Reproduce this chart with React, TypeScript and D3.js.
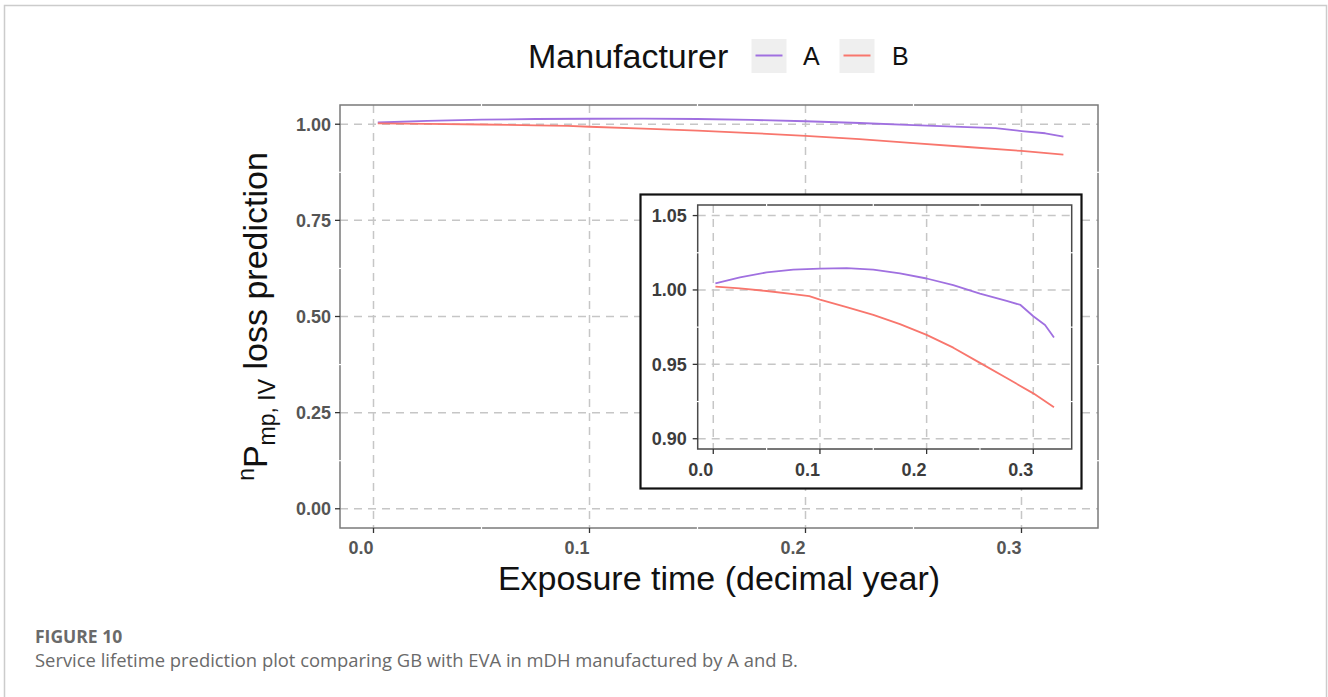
import React, { useEffect } from "react";
import * as d3 from "d3";

// ---- data ----
const timeA = [0.002, 0.025, 0.05, 0.075, 0.1, 0.125, 0.15, 0.175, 0.2, 0.225, 0.25, 0.275, 0.288, 0.3, 0.311, 0.3194];
const valueA = [1.0045, 1.0085, 1.0118, 1.0136, 1.0143, 1.0147, 1.0136, 1.0112, 1.0077, 1.0032, 0.9976, 0.9926, 0.9899, 0.9823, 0.9765, 0.968];
const timeB = [0.002, 0.025, 0.05, 0.075, 0.09, 0.1, 0.125, 0.15, 0.175, 0.2, 0.225, 0.25, 0.275, 0.3, 0.3194];
const valueB = [1.0022, 1.001, 0.9993, 0.9972, 0.9958, 0.9935, 0.9885, 0.9832, 0.977, 0.9698, 0.9612, 0.951, 0.9408, 0.9305, 0.9212];

const manufacturers = ["A", "B"];
const colors = ["#a070e0", "#f8766d"];

const mainXTicks = [0, 0.1, 0.2, 0.3];
const mainXMinor = [0.05, 0.15, 0.25];
const mainYTicks = [0, 0.25, 0.5, 0.75, 1.0];
const mainYMinor = [0.125, 0.375, 0.625, 0.875];
const insetXTicks = [0, 0.1, 0.2, 0.3];
const insetXMinor = [0.05, 0.15, 0.25];
const insetYTicks = [0.9, 0.95, 1.0, 1.05];
const insetYMinor = [0.925, 0.975, 1.025];

const CHART_FONT = "'Liberation Sans', Arial, Helvetica, sans-serif";
const CAPTION_FONT = "'Open Sans', Lato, sans-serif";

type Panel = {
  x: d3.ScaleLinear<number, number>;
  y: d3.ScaleLinear<number, number>;
  xTicks: number[];
  yTicks: number[];
  xMinor: number[];
  yMinor: number[];
  xFmt: (v: number) => string;
  yFmt: (v: number) => string;
  labelSize: number;
  labelColor: string;
  borderColor: string;
  xLabelBaseline: number;
  yLabelGap: number;
  lineWidth: number;
};

function PanelView({ p }: { p: Panel }) {
  const [x0, x1] = p.x.range();
  const [y0, y1] = p.y.range(); // y0 bottom, y1 top
  const line = d3
    .line<[number, number]>()
    .x((d) => p.x(d[0]))
    .y((d) => p.y(d[1]));
  const seriesA: [number, number][] = timeA.map((t, i) => [t, valueA[i]]);
  const seriesB: [number, number][] = timeB.map((t, i) => [t, valueB[i]]);
  return (
    <g>
      <rect x={x0} y={y1} width={x1 - x0} height={y0 - y1} fill="#fff" />
      {p.xTicks.map((t) => (
        <line key={"gx" + t} x1={p.x(t)} x2={p.x(t)} y1={y1} y2={y0} stroke="#c6c6c6" strokeWidth={1.5} strokeDasharray="8,6" />
      ))}
      {p.yTicks.map((t) => (
        <line key={"gy" + t} x1={x0} x2={x1} y1={p.y(t)} y2={p.y(t)} stroke="#c6c6c6" strokeWidth={1.5} strokeDasharray="8,6" />
      ))}
      <path d={line(seriesA) || ""} fill="none" stroke={colors[0]} strokeWidth={p.lineWidth} strokeLinejoin="round" />
      <path d={line(seriesB) || ""} fill="none" stroke={colors[1]} strokeWidth={p.lineWidth} strokeLinejoin="round" />
      <rect x={x0} y={y1} width={x1 - x0} height={y0 - y1} fill="none" stroke={p.borderColor} strokeWidth={1.5} />
      {p.xMinor.map((t) => (
        <g key={"mx" + t}>
          <line x1={p.x(t)} x2={p.x(t)} y1={y1 - 1.5} y2={y1 + 1.5} stroke="#fff" strokeWidth={1.2} />
          <line x1={p.x(t)} x2={p.x(t)} y1={y0 - 1.5} y2={y0 + 1.5} stroke="#fff" strokeWidth={1.2} />
        </g>
      ))}
      {p.yMinor.map((t) => (
        <g key={"my" + t}>
          <line x1={x0 - 1.5} x2={x0 + 1.5} y1={p.y(t)} y2={p.y(t)} stroke="#fff" strokeWidth={1.2} />
          <line x1={x1 - 1.5} x2={x1 + 1.5} y1={p.y(t)} y2={p.y(t)} stroke="#fff" strokeWidth={1.2} />
        </g>
      ))}
      {p.xTicks.map((t) => (
        <g key={"tx" + t}>
          <line x1={p.x(t)} x2={p.x(t)} y1={y0} y2={y0 + 5} stroke="#333" strokeWidth={1.3} />
          <text x={p.x(t)} y={p.xLabelBaseline} textAnchor="end" fontSize={p.labelSize} fontWeight="bold" fill={p.labelColor} fontFamily={CHART_FONT}>
            {p.xFmt(t)}
          </text>
        </g>
      ))}
      {p.yTicks.map((t) => (
        <g key={"ty" + t}>
          <line x1={x0 - 5} x2={x0} y1={p.y(t)} y2={p.y(t)} stroke="#333" strokeWidth={1.3} />
          <text x={x0 - p.yLabelGap} y={p.y(t)} dy="0.36em" textAnchor="end" fontSize={p.labelSize} fontWeight="bold" fill={p.labelColor} fontFamily={CHART_FONT}>
            {p.yFmt(t)}
          </text>
        </g>
      ))}
    </g>
  );
}

export default function App() {
  useEffect(() => {
    document.body.style.margin = "0";
  }, []);

  const mainX = d3.scaleLinear().domain([-0.01551, 0.33542]).range([340, 1098]);
  const mainY = d3.scaleLinear().domain([-0.05, 1.05]).range([528, 105]);
  const insetX = d3.scaleLinear().domain([-0.0146, 0.336]).range([697.7, 1071.7]);
  const insetY = d3.scaleLinear().domain([0.8931, 1.0571]).range([449, 205]);

  const mainPanel: Panel = {
    x: mainX,
    y: mainY,
    xTicks: mainXTicks,
    yTicks: mainYTicks,
    xMinor: mainXMinor,
    yMinor: mainYMinor,
    xFmt: d3.format(".1f"),
    yFmt: d3.format(".2f"),
    labelSize: 18,
    labelColor: "#555",
    borderColor: "#7a7a7a",
    xLabelBaseline: 554,
    yLabelGap: 9,
    lineWidth: 1.8,
  };
  const insetPanel: Panel = {
    x: insetX,
    y: insetY,
    xTicks: insetXTicks,
    yTicks: insetYTicks,
    xMinor: insetXMinor,
    yMinor: insetYMinor,
    xFmt: d3.format(".1f"),
    yFmt: d3.format(".2f"),
    labelSize: 18,
    labelColor: "#3c3c3c",
    borderColor: "#4a4a4a",
    xLabelBaseline: 476,
    yLabelGap: 11,
    lineWidth: 1.8,
  };

  return (
    <svg width={1328} height={697} style={{ position: "absolute", left: 0, top: 0, background: "#fff" }}>
      {/* card border */}
      <rect x={4.5} y={5.5} width={1322} height={720} fill="#fff" stroke="#cccccc" strokeWidth={1.5} />

      {/* legend */}
      <text x={528} y={68} fontSize={34} fontFamily={CHART_FONT} fill="#111">
        Manufacturer
      </text>
      {manufacturers.map((m, i) => {
        const kx = i === 0 ? 751.5 : 839.5;
        const lx = i === 0 ? 803 : 892;
        return (
          <g key={m}>
            <rect x={kx} y={39} width={35} height={34} fill="#efefef" />
            <line x1={kx + 4} x2={kx + 31} y1={55.5} y2={55.5} stroke={colors[i]} strokeWidth={2} />
            <text x={lx} y={65} fontSize={25} fontFamily={CHART_FONT} fill="#111">
              {m}
            </text>
          </g>
        );
      })}

      <PanelView p={mainPanel} />

      {/* axis titles */}
      <text x={719} y={590} textAnchor="middle" fontSize={34} fontFamily={CHART_FONT} fill="#111">
        Exposure time (decimal year)
      </text>
      <g transform="translate(267,316.5) rotate(-90)">
        <text textAnchor="middle" fontFamily={CHART_FONT} fill="#111" fontSize={34}>
          <tspan fontSize={23} dy={-13}>n</tspan>
          <tspan dy={13}>P</tspan>
          <tspan fontSize={23} dy={8}>mp, IV</tspan>
          <tspan dy={-8}> loss prediction</tspan>
        </text>
      </g>

      {/* inset */}
      <rect x={640.5} y={194.5} width={441} height={294} fill="#fff" stroke="#111" strokeWidth={2.2} />
      <PanelView p={insetPanel} />

      {/* caption */}
      <text x={35} y={643} fontSize={17.5} fontWeight="bold" fill="#6a6a6a" fontFamily={CAPTION_FONT}>
        FIGURE 10
      </text>
      <text x={35} y={667} fontSize={18.4} fill="#6a6a6a" fontFamily={CAPTION_FONT}>
        Service lifetime prediction plot comparing GB with EVA in mDH manufactured by A and B.
      </text>
    </svg>
  );
}
